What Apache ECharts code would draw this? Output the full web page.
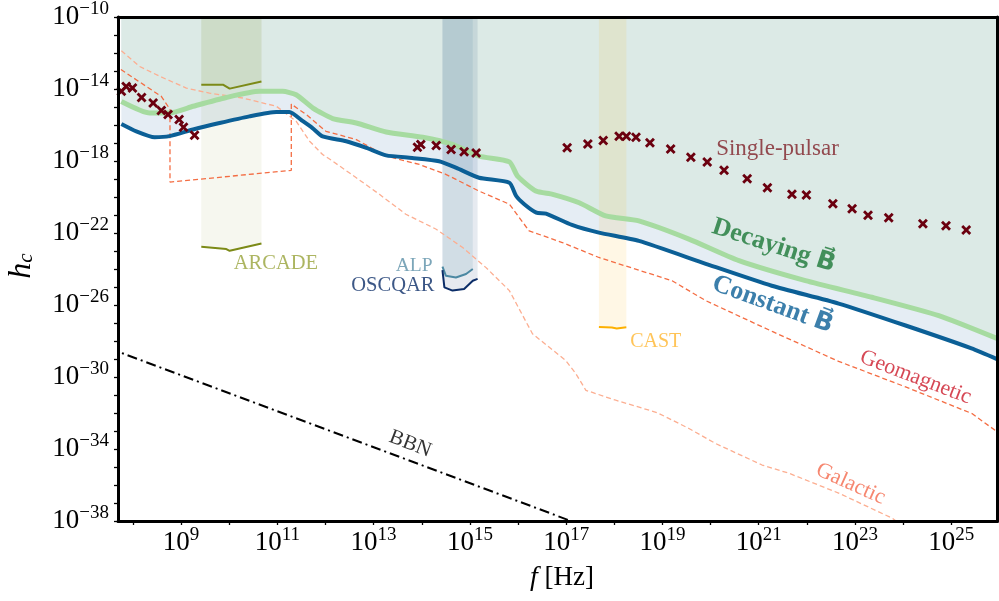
<!DOCTYPE html>
<html><head><meta charset="utf-8">
<script src="https://cdn.jsdelivr.net/npm/echarts@6/dist/echarts.min.js"></script>
<style>html,body{margin:0;padding:0;background:#fff}#c{width:999px;height:601px}</style>
</head><body><div id="c"></div>
<script>
// All values are log10: [log10(f / Hz), log10(h_c)]
const xTickExps = [8,9,10,11,12,13,14,15,16,17,18,19,20,21,22,23,24,25];
const xLabelExps = [9,11,13,15,17,19,21,23,25];
const yTickExps = [-38,-37,-36,-35,-34,-33,-32,-31,-30,-29,-28,-27,-26,-25,-24,-23,-22,-21,-20,-19,-18,-17,-16,-15,-14,-13,-12,-11,-10];
const yLabelExps = [-38,-34,-30,-26,-22,-18,-14,-10];

const constantB = [[7.76,-15.94],[8.07,-16.35],[8.45,-16.68],[8.76,-16.62],[9.25,-16.25],[9.80,-15.89],[10.42,-15.52],[10.98,-15.28],[11.25,-15.28],[11.53,-15.79],[11.73,-16.17],[11.94,-16.63],[12.43,-16.90],[12.85,-17.27],[13.26,-17.69],[13.80,-17.83],[14.36,-18.01],[14.72,-18.38],[15.19,-18.93],[15.82,-19.21],[15.96,-19.94],[16.13,-20.40],[16.38,-20.87],[16.58,-20.92],[17.12,-21.55],[17.68,-21.98],[18.51,-22.44],[19.90,-23.71],[21.27,-24.93],[22.66,-25.92],[24.05,-27.14],[25.42,-28.41],[25.96,-29.02]];
const decayingB = [[7.76,-14.69],[8.35,-15.33],[8.76,-15.33],[9.25,-14.96],[9.94,-14.47],[10.63,-14.13],[11.11,-14.13],[11.39,-14.32],[11.74,-15.06],[12.15,-15.64],[12.64,-15.89],[13.26,-16.39],[14.02,-16.68],[14.64,-17.08],[15.19,-17.73],[15.82,-18.05],[15.99,-18.84],[16.37,-19.67],[16.72,-19.85],[17.27,-20.32],[17.82,-21.05],[18.51,-21.33],[19.55,-22.34],[20.59,-23.54],[21.97,-24.65],[23.35,-25.57],[24.74,-26.59],[25.96,-27.87]];
const geomagnetic = [[7.75,-12.92],[8.59,-14.41],[8.77,-15.13],[8.77,-19.17],[11.29,-18.52],[11.29,-14.84],[11.60,-15.42],[12.01,-16.35],[12.64,-16.81],[13.26,-17.73],[13.95,-18.19],[14.50,-18.74],[15.19,-19.67],[15.82,-20.40],[16.23,-21.88],[16.92,-22.53],[17.68,-23.36],[19.20,-24.65],[19.90,-25.76],[21.28,-27.47],[22.66,-29.13],[24.05,-30.55],[25.43,-32.03],[25.96,-33.06]];
const galactic = [[7.76,-11.88],[8.14,-12.75],[8.56,-13.30],[9.11,-13.95],[9.59,-14.23],[10.28,-14.50],[10.98,-14.96],[11.39,-15.79],[11.67,-16.90],[11.94,-17.64],[12.15,-18.01],[12.64,-18.93],[13.12,-19.85],[13.67,-20.96],[14.30,-21.79],[14.85,-22.81],[15.33,-23.91],[15.82,-25.20],[16.30,-27.60],[16.99,-29.08],[17.20,-29.81],[17.41,-30.74],[18.03,-31.29],[18.89,-31.98],[19.55,-32.86],[20.10,-33.69],[21.07,-34.89],[21.63,-35.35],[22.66,-36.45],[23.77,-37.84],[24.01,-38.30]];
const bbn = [[7.5,-28.40],[17.5,-38.40]];
const singlePulsar = [[7.76,-14.13],[7.86,-13.86],[7.99,-13.95],[8.18,-14.47],[8.42,-14.78],[8.59,-15.20],[8.73,-15.42],[8.96,-15.70],[9.05,-16.13],[9.28,-16.57],[13.91,-17.23],[13.98,-17.08],[14.30,-17.14],[14.61,-17.36],[14.88,-17.49],[15.13,-17.55],[17.02,-17.27],[17.45,-17.05],[17.77,-16.86],[18.10,-16.62],[18.25,-16.62],[18.45,-16.68],[18.74,-16.99],[19.17,-17.33],[19.59,-17.79],[19.93,-18.05],[20.28,-18.51],[20.76,-18.99],[21.18,-19.49],[21.69,-19.85],[21.99,-19.89],[22.54,-20.37],[22.94,-20.65],[23.27,-21.01],[23.70,-21.15],[24.41,-21.48],[24.89,-21.60],[25.31,-21.83]];
const arcadeUpper = [[9.42,-13.76],[9.87,-13.76],[10.01,-13.98],[10.67,-13.58]];
const arcadeLower = [[9.42,-22.77],[9.94,-22.89],[10.01,-22.99],[10.67,-22.58]];
const alp = [[14.43,-23.87],[14.50,-24.37],[14.71,-24.47],[14.92,-24.28],[15.06,-24.00]];
const oscqar = [[14.43,-24.06],[14.47,-25.02],[14.64,-25.20],[14.88,-25.11],[15.06,-24.65],[15.16,-24.55]];
const cast = [[17.68,-27.22],[17.95,-27.25],[18.05,-27.30],[18.25,-27.24]];

const FONT = '"Liberation Serif", "DejaVu Serif", serif';
const chart = echarts.init(document.getElementById('c'), null, {renderer: 'canvas'});

const supFmt = v => '{b|10}{s|' + String(Math.round(v)).replace('-', '\u2212') + '}';
const richLab = {
  b: {fontSize: 27, lineHeight: 34, fontFamily: FONT, color: '#000'},
  s: {fontSize: 19, lineHeight: 16, fontFamily: FONT, color: '#000', verticalAlign: 'top'}
};

function fill(data, color, z) {
  return {type: 'line', data, symbol: 'none', silent: true, z: z || 1,
    lineStyle: {width: 0, opacity: 0}, areaStyle: {origin: 'end', color, opacity: 1}};
}
function curve(data, color, width, type, z, smooth) {
  return {type: 'line', data, symbol: 'none', silent: true, z: z || 4, smooth: smooth || false,
    lineStyle: {color, width, type: type || 'solid'}};
}
function text(txt, x, y, color, size, rotate, weight, rich) {
  return {type: 'scatter', data: [[x, y]], symbolSize: 0, silent: true, z: 8,
    label: {show: true, position: 'inside', formatter: txt, rotate: rotate || 0,
      color, fontSize: size, fontFamily: FONT, fontWeight: weight || 'normal', rich: rich || {}}};
}
const vecRich = (color, size) => ({v: {fontFamily: '"DejaVu Serif", "DejaVu Sans"', fontWeight: 'bold', fontSize: size - 1, color}});

const option = {
  animation: false,
  grid: {left: 118, right: 1.5, top: 15, bottom: 80, containLabel: false},
  xAxis: [{
    type: 'value', min: 7.69, max: 25.96, z: 10,
    axisLine: {show: true, lineStyle: {color: '#000', width: 3}},
    axisTick: {show: true, customValues: xTickExps, length: 4, lineStyle: {color: '#000', width: 1.3}},
    axisLabel: {customValues: xLabelExps, formatter: supFmt, margin: 5, rich: richLab},
    splitLine: {show: false}
  }, {
    type: 'value', position: 'top', min: 7.69, max: 25.96, z: 10,
    axisLine: {show: true, onZero: false, lineStyle: {color: '#000', width: 3}},
    axisTick: {show: false}, axisLabel: {show: false}, splitLine: {show: false}
  }],
  yAxis: [{
    type: 'value', min: -38, max: -10, z: 10,
    axisLine: {show: true, onZero: false, lineStyle: {color: '#000', width: 3}},
    axisTick: {show: true, customValues: yTickExps, length: 4, lineStyle: {color: '#000', width: 1.3}},
    axisLabel: {customValues: yLabelExps, formatter: supFmt, margin: 9, rich: richLab},
    splitLine: {show: false}
  }, {
    type: 'value', position: 'right', min: -38, max: -10, z: 10,
    axisLine: {show: true, onZero: false, lineStyle: {color: '#000', width: 3}},
    axisTick: {show: false}, axisLabel: {show: false}, splitLine: {show: false}
  }],
  graphic: [
    {type: 'text', x: 562, y: 578, silent: true, style: {
      text: '{i|f} [Hz]', align: 'center', verticalAlign: 'middle',
      fontSize: 27, fontFamily: FONT, fill: '#000',
      rich: {i: {fontStyle: 'italic', fontSize: 28, fontFamily: FONT, fill: '#000'}}}},
    {type: 'text', x: 22, y: 266, rotation: Math.PI / 2, silent: true, style: {
      text: '{h|h}{c|c}', align: 'center', verticalAlign: 'middle', fill: '#000',
      rich: {h: {fontStyle: 'italic', fontSize: 32, lineHeight: 30, fontFamily: FONT},
             c: {fontStyle: 'italic', fontSize: 21, lineHeight: 16, fontFamily: FONT, verticalAlign: 'bottom'}}}}
  ],
  series: [
    fill(constantB, '#e5edf4', 1),
    fill(decayingB, '#dceae6', 1),
    fill(arcadeLower, 'rgba(125,140,25,0.07)', 2),
    fill(arcadeUpper, 'rgba(110,140,30,0.08)', 2),
    fill(alp, 'rgba(74,138,165,0.13)', 2),
    fill(oscqar, 'rgba(8,48,107,0.10)', 2),
    fill(cast, 'rgba(255,176,0,0.10)', 2),
    curve(galactic, '#fcae91', 1.3, [5, 3], 3),
    curve(geomagnetic, '#f46d43', 1.3, [5, 3], 3),
    curve(decayingB, '#a6dba0', 5, 'solid', 4, 0.2),
    curve(constantB, '#0b5f96', 4, 'solid', 4, 0.2),
    curve(arcadeUpper, '#7c8a17', 2, 'solid', 5),
    curve(arcadeLower, '#7c8a17', 2, 'solid', 5),
    curve(alp, '#4b88a2', 2, 'solid', 5),
    curve(oscqar, '#0b2d68', 2, 'solid', 5),
    curve(cast, '#fdb000', 2, 'solid', 5),
    curve(bbn, '#000', 2, [10, 4, 2, 4], 5),
    {type: 'scatter', data: singlePulsar, silent: true, z: 6,
      symbol: 'path://M0,2L2,0L5,3L8,0L10,2L7,5L10,8L8,10L5,7L2,10L0,8L3,5Z',
      symbolSize: 10, itemStyle: {color: '#6b000f', opacity: 1}},
    text('Decaying {v|B\u20D7}', 21.31, -22.71, '#1b7837', 26, -18, 'bold', vecRich('#1b7837', 26)),
    text('Constant {v|B\u20D7}', 21.29, -25.98, '#0b5f96', 26, -20, 'bold', vecRich('#0b5f96', 26)),
    text('Geomagnetic', 24.26, -30.02, '#cc1a2a', 22, -21),
    text('Galactic', 22.91, -35.94, '#f4694c', 22, -24),
    text('BBN', 13.76, -33.72, '#000', 21, -21),
    text('Single-pulsar', 21.39, -17.34, '#7f2028', 23, 0),
    text('ARCADE', 10.97, -23.72, '#97a33a', 20.5, 0),
    text('ALP', 13.84, -23.83, '#5b90a8', 19.5, 0),
    text('OSCQAR', 13.40, -24.94, '#0b2d68', 20.5, 0),
    text('CAST', 18.86, -28.04, '#ffb52e', 20, 0)
  ]
};
chart.setOption(option);
</script></body></html>
